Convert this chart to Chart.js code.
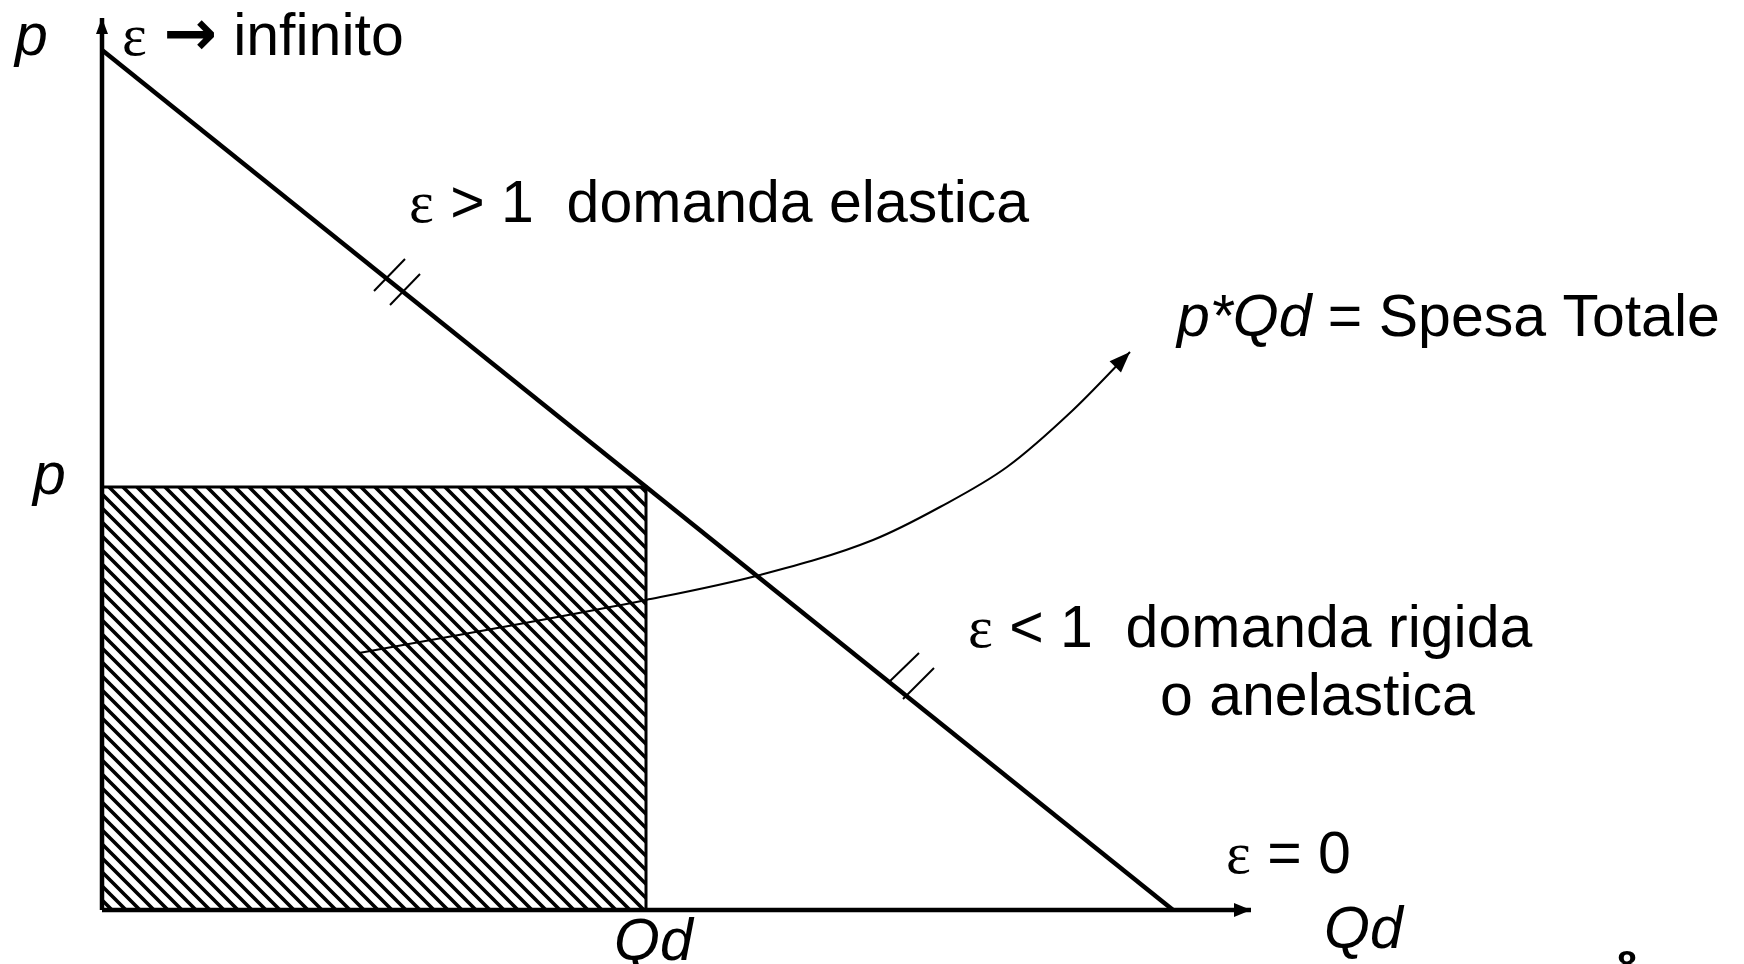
<!DOCTYPE html>
<html>
<head>
<meta charset="utf-8">
<title>Elasticita della domanda</title>
<script src="https://cdn.jsdelivr.net/npm/chart.js@4.4.1/dist/chart.umd.min.js"></script>
<style>
  html, body { margin: 0; padding: 0; background: #fff; }
  #wrap { width: 1744px; height: 964px; position: relative; }
</style>
</head>
<body>
<div id="wrap"><canvas id="elasticity_chart"></canvas></div>
<script>
// ---- data (Q on x, p on y) ----
const axisQ = [0, 1149];          // x axis end (arrow)
const axisP = [0, 892];           // y axis end (arrow)

const demandQ = [0, 1071];
const demandP = [860, 0];

// chosen point on the demand curve -> spesa totale rectangle
const pointQ = 544;
const pointP = 423;

// curve pointing from the rectangle to the label
const spesaQ = [257, 544, 658, 771, 838, 905, 970, 1028];
const spesaP = [257, 310, 335, 370, 403, 443, 499, 558];

// double slash marks on the demand line
const slashQ = [[272, 303], [288, 318], [786, 817], [801, 832]];
const slashP = [[619, 651], [605, 636], [227, 257], [211, 242]];

// text labels: [q, p, runs]
const labels = [
  [-87, 855, [['p', 'ital']]],
  [20, 855, [['\u03b5', 'serif'], [' ', 'sans'], ['\u2192', 'arrow'], [' infinito', 'sans']]],
  [307, 688, [['\u03b5', 'serif'], [' > 1  domanda elastica', 'sans']]],
  [1075, 574, [['p*Qd', 'ital'], [' = Spesa Totale', 'sans']]],
  [-69, 416, [['p', 'ital']]],
  [866, 263, [['\u03b5', 'serif'], [' < 1  domanda rigida', 'sans']]],
  [1058, 195, [['o anelastica', 'sans']]],
  [1124, 37, [['\u03b5', 'serif'], [' = 0', 'sans']]],
  [1222, -38, [['Qd', 'ital']]],
  [512, -50, [['Qd', 'ital']]],
  [1515, -67, [['8', 'bold']]]
];

const fonts = {
  sans: '59px "Liberation Sans", Arial, sans-serif',
  ital: 'italic 59px "Liberation Sans", Arial, sans-serif',
  serif: '59px "Liberation Serif", "Times New Roman", serif',
  arrow: 'bold 64px "DejaVu Sans", sans-serif',
  bold: 'bold 36px "Liberation Sans", Arial, sans-serif'
};

function pts(xs, ys) {
  return xs.map((x, i) => ({ x: x, y: ys[i] }));
}

// diagonal hatch for the rectangle
function makeHatch() {
  const s = 14;
  const c = document.createElement('canvas');
  c.width = s; c.height = s;
  const g = c.getContext('2d');
  g.fillStyle = '#fff';
  g.fillRect(0, 0, s, s);
  g.strokeStyle = '#000';
  g.lineWidth = 3.6;
  g.beginPath();
  for (let k = -1; k <= 1; k++) {
    g.moveTo(k * s - s, -s);
    g.lineTo(k * s + 2 * s, 2 * s);
  }
  g.stroke();
  return g.createPattern(c, 'repeat');
}

// arrowheads at the last point of flagged datasets
const arrowPlugin = {
  id: 'arrows',
  afterDatasetsDraw(chart) {
    const ctx = chart.ctx;
    chart.data.datasets.forEach((ds, i) => {
      if (!ds.arrow) return;
      const meta = chart.getDatasetMeta(i);
      const n = meta.data.length;
      const a = meta.data[n - 2], b = meta.data[n - 1];
      const ang = Math.atan2(b.y - a.y, b.x - a.x);
      const len = ds.arrow.len, w = ds.arrow.w;
      ctx.save();
      ctx.translate(b.x, b.y);
      ctx.rotate(ang);
      ctx.fillStyle = '#000';
      ctx.beginPath();
      ctx.moveTo(0, 0);
      ctx.lineTo(-len, -w);
      ctx.lineTo(-len, w);
      ctx.closePath();
      ctx.fill();
      ctx.restore();
    });
  }
};

// text labels placed through the scales
const labelPlugin = {
  id: 'labels',
  afterDatasetsDraw(chart) {
    const ctx = chart.ctx;
    const xs = chart.scales.x, ys = chart.scales.y;
    ctx.save();
    ctx.fillStyle = '#000';
    ctx.textBaseline = 'alphabetic';
    ctx.textAlign = 'left';
    labels.forEach(l => {
      let x = xs.getPixelForValue(l[0]);
      const y = ys.getPixelForValue(l[1]);
      l[2].forEach(run => {
        ctx.font = fonts[run[1]];
        ctx.fillText(run[0], x, y);
        x += ctx.measureText(run[0]).width;
      });
    });
    ctx.restore();
  }
};

function line(data, width, extra) {
  return Object.assign({
    data: data,
    showLine: true,
    borderColor: '#000',
    borderWidth: width,
    pointRadius: 0,
    fill: false,
    tension: 0,
    order: 1
  }, extra || {});
}

// rectangle gets a higher order so it is drawn underneath everything
const datasets = [
  line(pts([pointQ, pointQ, 0, 0], [0, pointP, pointP, 0]), 3, { fill: 'origin', backgroundColor: makeHatch(), order: 10 }),
  line(pts(demandQ, demandP), 4.5),
  line(pts([0, 0], axisP), 4.5, { arrow: { len: 16, w: 6 } }),
  line(pts(axisQ, [0, 0]), 4.5, { arrow: { len: 17, w: 7 } }),
  line(pts(spesaQ, spesaP), 2, { cubicInterpolationMode: 'monotone', arrow: { len: 21, w: 8 } })
];
slashQ.forEach((q, i) => datasets.push(line(pts(q, slashP[i]), 2)));

const ctx = document.getElementById('elasticity_chart').getContext('2d');
const chart = new Chart(ctx, {
  type: 'scatter',
  data: { datasets: datasets },
  options: {
    responsive: true,
    maintainAspectRatio: false,
    animation: false,
    events: [],
    layout: { padding: 0 },
    plugins: { legend: { display: false }, tooltip: { enabled: false } },
    scales: {
      x: { type: 'linear', min: -102, max: 1642, display: false },
      y: { type: 'linear', min: -54, max: 910, display: false }
    }
  },
  plugins: [arrowPlugin, labelPlugin]
});
</script>
</body>
</html>
